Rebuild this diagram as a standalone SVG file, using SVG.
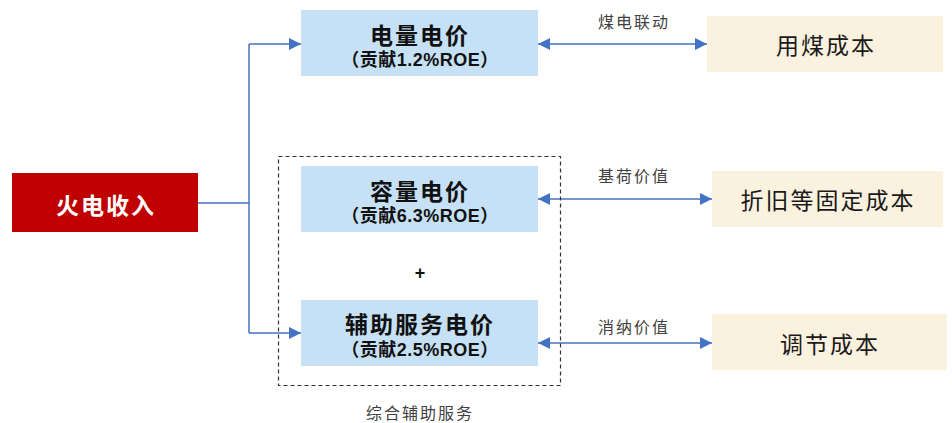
<svg xmlns="http://www.w3.org/2000/svg" width="952" height="423" viewBox="0 0 952 423">
<style>
.blue{fill:#C6E1F5}
.beige{fill:#FAF1DF}
.t{font-family:"Noto Sans CJK SC","Noto Sans",sans-serif;font-size:23px;font-weight:bold;fill:#111;text-anchor:middle;dominant-baseline:central;letter-spacing:2px}
.s{font-family:"Liberation Sans","Noto Sans CJK SC",sans-serif;font-size:18px;font-weight:bold;fill:#111;text-anchor:middle;dominant-baseline:central;letter-spacing:0.5px}
.c{font-family:"Noto Sans CJK SC",sans-serif;font-size:23px;fill:#1a1a1a;text-anchor:middle;dominant-baseline:central;letter-spacing:2px}
.l{font-family:"Noto Sans CJK SC",sans-serif;font-size:16px;fill:#404040;text-anchor:middle;dominant-baseline:central;letter-spacing:2px}
.ln{fill:none;stroke:#4472C4;stroke-width:1.5}
</style>
<defs>
<marker id="ah" viewBox="0 0 12 12" refX="12" refY="6" markerWidth="13" markerHeight="12" markerUnits="userSpaceOnUse" orient="auto-start-reverse">
<path d="M0,0 L12,6 L0,12 Z" fill="#4472C4"/>
</marker>
</defs>
<g id="connectors">
<polyline class="ln" points="198,203 249,203"/>
<polyline class="ln" points="249,44 249,333"/>
<polyline class="ln" points="249,44 301,44" marker-end="url(#ah)"/>
<polyline class="ln" points="249,333 301,333" marker-end="url(#ah)"/>
<line class="ln" x1="538" y1="44" x2="707" y2="44" marker-start="url(#ah)" marker-end="url(#ah)"/>
<line class="ln" x1="538" y1="199" x2="712" y2="199" marker-start="url(#ah)" marker-end="url(#ah)"/>
<line class="ln" x1="538" y1="343" x2="712" y2="343" marker-start="url(#ah)" marker-end="url(#ah)"/>
<text class="l" x="634" y="21">煤电联动</text>
<text class="l" x="634" y="175">基荷价值</text>
<text class="l" x="634" y="326">消纳价值</text>
</g>
<g id="group-ancillary">
<rect x="278.5" y="156.5" width="282" height="229" fill="none" stroke="#333" stroke-width="1.2" stroke-dasharray="4,3"/>
<text class="l" x="420" y="412">综合辅助服务</text>
<text x="420" y="273" font-family="Liberation Sans,sans-serif" font-size="18" font-weight="bold" fill="#111" text-anchor="middle" dominant-baseline="central">+</text>
</g>
<g id="n-revenue">
<rect x="12" y="173" width="186" height="59" fill="#C00000"/>
<text class="t" x="106" y="204" style="fill:#fff">火电收入</text>
</g>
<g id="n-energy">
<rect class="blue" x="301" y="10" width="237" height="66"/>
<text class="t" x="420" y="34">电量电价</text>
<text class="s" x="420" y="60">（贡献1.2%ROE）</text>
</g>
<g id="n-capacity">
<rect class="blue" x="301" y="166" width="237" height="66"/>
<text class="t" x="420" y="190">容量电价</text>
<text class="s" x="420" y="216">（贡献6.3%ROE）</text>
</g>
<g id="n-ancillary">
<rect class="blue" x="301" y="300" width="237" height="66"/>
<text class="t" x="420" y="323">辅助服务电价</text>
<text class="s" x="420" y="350">（贡献2.5%ROE）</text>
</g>
<g id="n-coal">
<rect class="beige" x="707" y="16" width="236" height="56"/>
<text class="c" x="826" y="44">用煤成本</text>
</g>
<g id="n-fixed">
<rect class="beige" x="712" y="171" width="231" height="56"/>
<text class="c" x="828" y="199">折旧等固定成本</text>
</g>
<g id="n-reg">
<rect class="beige" x="712" y="314" width="235" height="56"/>
<text class="c" x="830" y="343">调节成本</text>
</g>
</svg>
